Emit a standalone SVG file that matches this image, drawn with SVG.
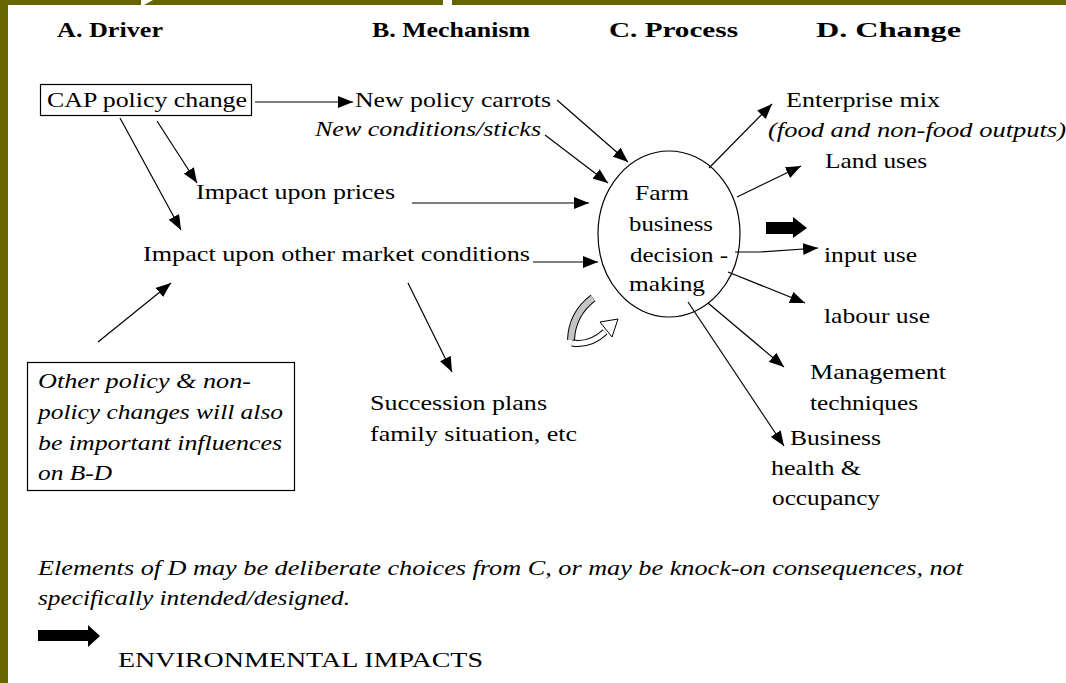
<svg xmlns="http://www.w3.org/2000/svg" width="1066" height="683" viewBox="0 0 1066 683">
<style>
.t{font-family:"Liberation Serif","Times New Roman",serif;font-size:22px;fill:#000}
.i{font-style:italic}
.h{font-weight:bold;font-size:21px}
.b{font-size:21px}
.ln{stroke:#000;stroke-width:1.2;fill:none}
.ar{marker-end:url(#ah)}
</style>
<defs>
<marker id="ah" markerWidth="15" markerHeight="12" refX="15" refY="6" orient="auto" markerUnits="userSpaceOnUse">
<path d="M0,0 L15,6 L0,12 z" fill="#000"/>
</marker>
</defs>
<rect width="1066" height="683" fill="#fff"/>
<g id="frame">
<rect x="0" y="0" width="1066" height="5" fill="#666600"/>
<rect x="0" y="0" width="8" height="683" fill="#666600"/>
<polygon points="141,0 153,0 144,5 141,5" fill="#fff"/>
<rect x="443" y="0" width="9" height="5" fill="#fff"/>
</g>
<g id="headers">
<text class="t h" x="57" y="37" textLength="106" lengthAdjust="spacingAndGlyphs">A. Driver</text>
<text class="t h" x="372" y="37" textLength="158" lengthAdjust="spacingAndGlyphs">B. Mechanism</text>
<text class="t h" x="609" y="37" textLength="129" lengthAdjust="spacingAndGlyphs">C. Process</text>
<text class="t h" x="816" y="37" textLength="145" lengthAdjust="spacingAndGlyphs">D. Change</text>
</g>
<g id="connectors">
<line class="ln ar" x1="255" y1="102" x2="353" y2="102"/>
<line class="ln ar" x1="157" y1="121" x2="197" y2="183"/>
<line class="ln ar" x1="120" y1="118" x2="181" y2="230"/>
<line class="ln ar" x1="557" y1="100" x2="628" y2="162"/>
<line class="ln ar" x1="545" y1="135" x2="608" y2="183"/>
<line class="ln ar" x1="412" y1="203" x2="589" y2="203"/>
<line class="ln ar" x1="533" y1="262" x2="598" y2="262"/>
<line class="ln ar" x1="98" y1="342" x2="171" y2="283"/>
<line class="ln ar" x1="408" y1="283" x2="452" y2="372"/>
<line class="ln ar" x1="709" y1="168" x2="772" y2="104"/>
<line class="ln ar" x1="737" y1="197" x2="801" y2="166"/>
<polyline class="ln ar" points="735,252 760,252 818,248"/>
<line class="ln ar" x1="728" y1="272" x2="805" y2="303"/>
<line class="ln ar" x1="708" y1="303" x2="784" y2="367"/>
<line class="ln ar" x1="688" y1="302" x2="784" y2="446"/>
<polygon points="766,222 793,222 793,217 807,228 793,238 793,234 766,234" fill="#000"/>
</g>
<g id="cap">
<rect x="40.5" y="84.5" width="211" height="31" fill="none" stroke="#000" stroke-width="1.2"/>
<text class="t" x="47" y="107" textLength="200" lengthAdjust="spacingAndGlyphs">CAP policy change</text>
</g>
<g id="mechanism">
<text class="t" x="355" y="107" textLength="196" lengthAdjust="spacingAndGlyphs">New policy carrots</text>
<text class="t i" x="315" y="136" textLength="226" lengthAdjust="spacingAndGlyphs">New conditions/sticks</text>
</g>
<g id="prices">
<text class="t" x="196" y="199" textLength="199" lengthAdjust="spacingAndGlyphs">Impact upon prices</text>
</g>
<g id="market">
<text class="t" x="143" y="261" textLength="387" lengthAdjust="spacingAndGlyphs">Impact upon other market conditions</text>
</g>
<g id="other">
<rect x="27.5" y="362.5" width="267" height="128" fill="none" stroke="#000" stroke-width="1.2"/>
<text class="t i" x="38" y="388" textLength="213" lengthAdjust="spacingAndGlyphs">Other policy &amp; non-</text>
<text class="t i" x="38" y="419" textLength="245" lengthAdjust="spacingAndGlyphs">policy changes will also</text>
<text class="t i" x="38" y="450" textLength="244" lengthAdjust="spacingAndGlyphs">be important influences</text>
<text class="t i" x="38" y="480" textLength="74" lengthAdjust="spacingAndGlyphs">on B-D</text>
</g>
<g id="succession">
<text class="t" x="370" y="410" textLength="177" lengthAdjust="spacingAndGlyphs">Succession plans</text>
<text class="t" x="370" y="441" textLength="207" lengthAdjust="spacingAndGlyphs">family situation, etc</text>
</g>
<g id="farm">
<ellipse cx="669" cy="234" rx="71" ry="83" fill="none" stroke="#000" stroke-width="1.2"/>
<text class="t" x="635" y="200" textLength="54" lengthAdjust="spacingAndGlyphs">Farm</text>
<text class="t" x="629" y="231" textLength="84" lengthAdjust="spacingAndGlyphs">business</text>
<text class="t" x="630" y="262" textLength="98" lengthAdjust="spacingAndGlyphs">decision -</text>
<text class="t" x="629" y="291" textLength="76" lengthAdjust="spacingAndGlyphs">making</text>
</g>
<g id="cycle">
<path d="M593,298 Q572,314 571,340" fill="none" stroke="#000" stroke-width="8"/>
<path d="M593,298 Q572,314 571,340" fill="none" stroke="#c4c4c4" stroke-width="6"/>
<path d="M572,343 Q590,346 605,332" fill="none" stroke="#000" stroke-width="7"/>
<path d="M572,343 Q590,346 605,332" fill="none" stroke="#fff" stroke-width="5"/>
<polygon points="600,322 618,319 612,337" fill="#fff" stroke="#000" stroke-width="1"/>
</g>
<g id="change">
<text class="t" x="786" y="107" textLength="154" lengthAdjust="spacingAndGlyphs">Enterprise mix</text>
<text class="t i" x="768" y="137" textLength="298" lengthAdjust="spacingAndGlyphs">(food and non-food outputs)</text>
<text class="t" x="825" y="168" textLength="102" lengthAdjust="spacingAndGlyphs">Land uses</text>
<text class="t" x="824" y="262" textLength="93" lengthAdjust="spacingAndGlyphs">input use</text>
<text class="t" x="824" y="323" textLength="106" lengthAdjust="spacingAndGlyphs">labour use</text>
<text class="t" x="810" y="379" textLength="136" lengthAdjust="spacingAndGlyphs">Management</text>
<text class="t" x="810" y="410" textLength="108" lengthAdjust="spacingAndGlyphs">techniques</text>
<text class="t" x="790" y="445" textLength="91" lengthAdjust="spacingAndGlyphs">Business</text>
<text class="t" x="771" y="475" textLength="90" lengthAdjust="spacingAndGlyphs">health &amp;</text>
<text class="t" x="772" y="505" textLength="108" lengthAdjust="spacingAndGlyphs">occupancy</text>
</g>
<g id="notes">
<text class="t i b" x="38" y="575" textLength="925" lengthAdjust="spacingAndGlyphs">Elements of D may be deliberate choices from C, or may be knock-on consequences, not</text>
<text class="t i b" x="38" y="605" textLength="312" lengthAdjust="spacingAndGlyphs">specifically intended/designed.</text>
<polygon points="38,630 88,630 88,625 100,636 88,647 88,641 38,641" fill="#000"/>
<text class="t b" x="118" y="667" textLength="365" lengthAdjust="spacingAndGlyphs">ENVIRONMENTAL IMPACTS</text>
</g>
</svg>
